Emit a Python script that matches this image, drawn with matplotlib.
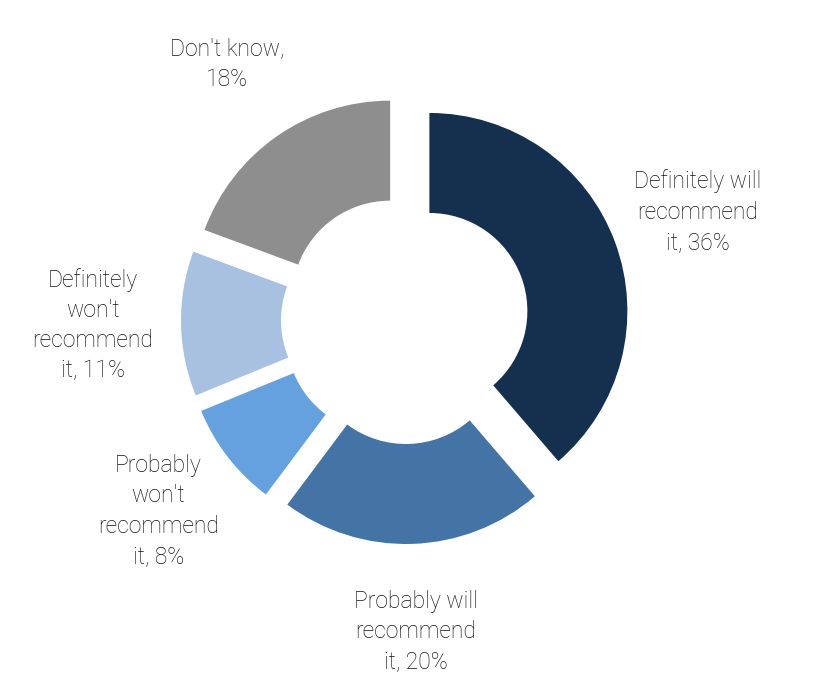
import numpy as np
import matplotlib.pyplot as plt

labels = ["Definitely will\nrecommend\nit, 36%",
          "Probably will\nrecommend\nit, 20%",
          "Probably\nwon't\nrecommend\nit, 8%",
          "Definitely\nwon't\nrecommend\nit, 11%",
          "Don't know,\n18%"]
values = [36, 20, 8, 11, 18]
colors = ["#15304f", "#4473a6", "#64a1de", "#a8c1e1", "#8e8e8e"]

plt.rcParams['font.family'] = ['Roboto', 'DejaVu Sans']

fig = plt.figure(figsize=(8.18, 6.78), dpi=100)
ax = fig.add_axes([0, 0, 1, 1])

R = 198
wedges, _ = ax.pie(values, colors=colors, startangle=90, counterclock=False,
                   radius=R, explode=[26] * len(values),
                   wedgeprops=dict(width=100, linewidth=0))

for w, lab in zip(wedges, labels):
    mid = np.deg2rad((w.theta1 + w.theta2) / 2)
    cx, cy = w.center
    d = R + 88
    x = cx + d * np.cos(mid)
    y = cy + d * np.sin(mid)
    ax.text(x, y, lab, ha="center", va="center", fontsize=16.5,
            fontweight="light", color="#111111", linespacing=1.4)

ax.set_xlim(-405, 413)
ax.set_ylim(-358, 320)
ax.set_aspect("equal")
ax.axis("off")

fig.savefig("out.png", dpi=100)
